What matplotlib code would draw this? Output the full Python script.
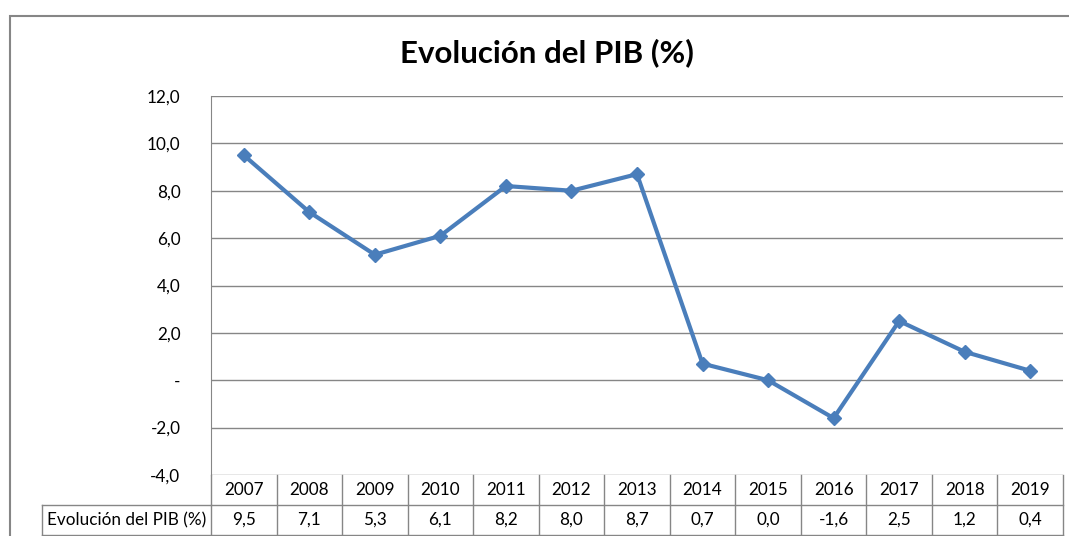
import matplotlib.pyplot as plt
from matplotlib.patches import Rectangle

plt.rcParams['font.family'] = ['Lato', 'DejaVu Sans']

years = ['2007', '2008', '2009', '2010', '2011', '2012', '2013',
         '2014', '2015', '2016', '2017', '2018', '2019']
pib = [9.5, 7.1, 5.3, 6.1, 8.2, 8.0, 8.7, 0.7, 0.0, -1.6, 2.5, 1.2, 0.4]
serie = 'Evolución del PIB (%)'
yticks = [-4, -2, 0, 2, 4, 6, 8, 10, 12]

W, H = 1069, 536
fig = plt.figure(figsize=(W / 100, H / 100), dpi=100)
ax = fig.add_axes([211 / W, (H - 475) / H, 852 / W, 379 / H])

grey = '#868686'
blue = '#4A7EBB'
fs = 12.3

x = list(range(len(years)))
ax.plot(x, pib, color=blue, lw=3, marker='D', ms=7.5, zorder=3)

ax.set_xlim(-0.5, len(years) - 0.5)
ax.set_ylim(-4, 12)
ax.set_yticks(yticks)
ax.set_yticklabels(['-' if v == 0 else f'{v:.1f}'.replace('.', ',') for v in yticks])
ax.tick_params(axis='y', length=0, pad=22, labelsize=fs)
ax.set_xticks([])
for v in yticks:
    ax.axhline(v, color=grey, lw=1, zorder=1)
for s in ['top', 'right', 'bottom']:
    ax.spines[s].set_visible(False)
ax.spines['left'].set_color(grey)

fig.suptitle('Evolución del PIB (%)', x=547 / W, y=1 - 53 / H, va='center',
             fontsize=22.5, fontweight='bold')

# data table under the plot
rh = 30 / 379
lab_left = -169 / 852
tr = ax.transAxes
lines = [((0, 1), (-rh, -rh)), ((lab_left, 1), (-2 * rh, -2 * rh)),
         ((lab_left, 0), (-rh, -rh)), ((lab_left, lab_left), (-rh, -2 * rh)),
         ((1, 1), (0, -2 * rh))]
for i in range(len(years)):
    xl = i / len(years)
    lines.append(((xl, xl), (0, -2 * rh)))
for xs, ys in lines:
    ax.plot(xs, ys, transform=tr, color=grey, lw=1, clip_on=False)
for i, (yr, v) in enumerate(zip(years, pib)):
    xc = (i + 0.5) / len(years)
    ax.text(xc, -0.5 * rh, yr, transform=tr, ha='center', va='center', fontsize=fs)
    ax.text(xc, -1.5 * rh, f'{v:.1f}'.replace('.', ','), transform=tr,
            ha='center', va='center', fontsize=fs)
ax.text(lab_left / 2, -1.5 * rh, serie, transform=tr, ha='center', va='center',
        fontsize=fs)

# chart area border
fig.patches.append(Rectangle((10 / W, -0.1), 1.2, 1 - 16 / H + 0.1, transform=fig.transFigure,
                             fill=False, edgecolor=grey, lw=1.5))

fig.savefig('out.png', dpi=100)
